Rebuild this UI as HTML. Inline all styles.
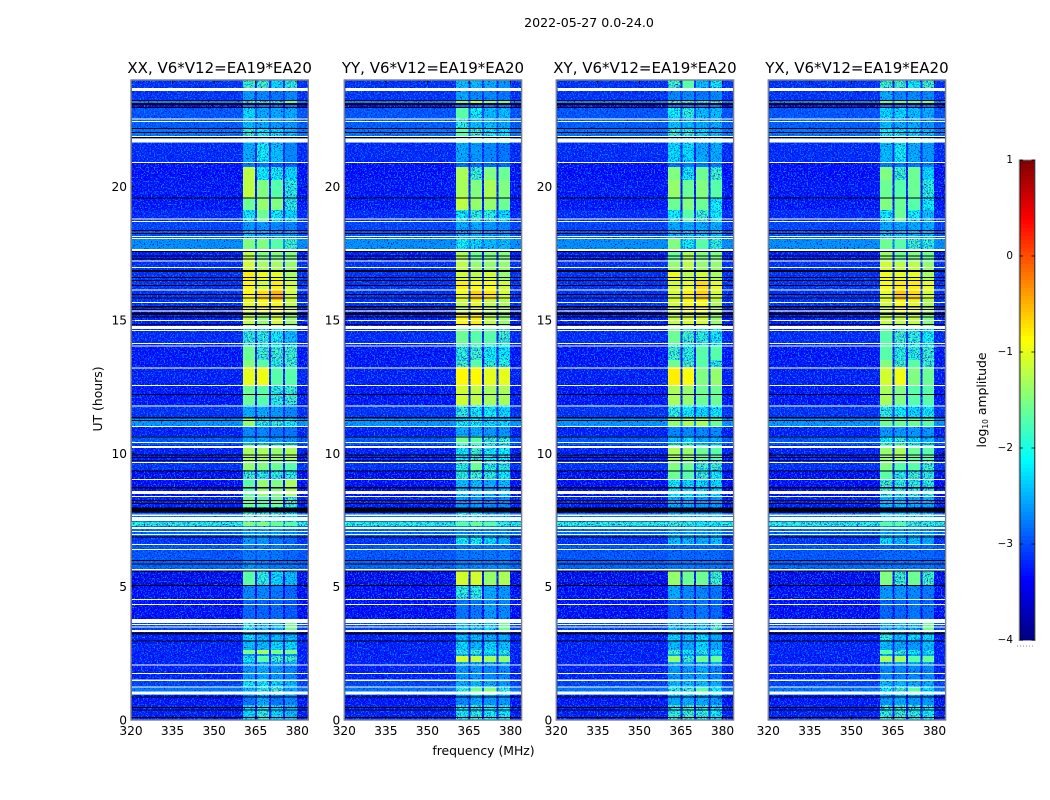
<!DOCTYPE html>
<html>
<head>
<meta charset="utf-8">
<title>2022-05-27 waterfall</title>
<style>
html,body{margin:0;padding:0;background:#fff;}
svg{display:block;}
text{font-family:"DejaVu Sans","Liberation Sans",sans-serif;fill:#000;}
</style>
</head>
<body>
<svg id="chart" xmlns="http://www.w3.org/2000/svg" width="1050" height="800" viewBox="0 0 1050 800">
  <defs>
    <filter id="speckle" x="0" y="0" width="100%" height="100%" color-interpolation-filters="sRGB">
      <feTurbulence type="fractalNoise" baseFrequency="0.7" numOctaves="2" seed="4" result="n"/>
      <feColorMatrix in="n" type="matrix" values="0 0 0 0 0  0 0 0 0 0.55  0 0 0 0 1  7 0 0 0 -3.75" result="light"/>
      <feColorMatrix in="n" type="matrix" values="0 0 0 0 0  0 0 0 0 0.02  0 0 0 0 0.72  0 -7 0 0 2.95" result="dark"/>
      <feMerge result="m"><feMergeNode in="dark"/><feMergeNode in="light"/></feMerge>
      <feComposite in="m" in2="SourceAlpha" operator="in"/>
    </filter>
  </defs>
  <text x="589" y="27" font-size="12.6" text-anchor="middle">2022-05-27 0.0-24.0</text>
  <text x="102" y="399" font-size="12.4" text-anchor="middle" transform="rotate(-90 102 399)">UT (hours)</text>
  <text x="483.5" y="755" font-size="12.4" text-anchor="middle">frequency (MHz)</text>
  <text x="986" y="400" font-size="12.4" text-anchor="middle" transform="rotate(-90 986 400)">log<tspan font-size="7.5" dy="2">10</tspan><tspan dy="-2"> amplitude</tspan></text>
  <g id="panels"></g>
  <g id="colorbar"></g>
</svg>
<script>
var panelTitles = ["XX, V6*V12=EA19*EA20","YY, V6*V12=EA19*EA20","XY, V6*V12=EA19*EA20","YX, V6*V12=EA19*EA20"];
var freqTicks = [320,335,350,365,380];
var hourTicks = [0,5,10,15,20];
var colorbarTicks = [1,0,-1,-2,-3,-4];
var bandEdgesMHz = [[360.4,364.8],[365.5,369.8],[370.5,374.9],[375.6,379.9]];
var segmentEdgesHours = [24.00,23.70,23.25,23.10,22.99,22.58,22.20,21.86,21.64,20.89,
20.74,20.25,19.58,19.13,18.68,18.34,18.04,17.66,17.18,16.88,
16.50,16.13,15.75,15.30,14.78,14.06,13.50,13.24,12.56,11.81,
11.36,10.99,10.65,10.31,9.75,9.38,9.00,8.40,7.99,7.76,
7.43,7.28,6.90,6.60,6.00,5.63,5.06,4.50,3.79,3.38,
3.00,2.63,2.48,2.40,2.18,2.06,1.50,1.24,0.94,0.56,0];
var backgroundLevels = [-3.0,-3.0,-2.5,-3.3,-2.8,-2.75,-2.6,-2.9,-3.05,-3.2,
-3.2,-3.15,-3.15,-3.05,-2.9,-2.8,-2.45,-3.1,-3.0,-3.0,
-3.0,-3.0,-3.0,-3.1,-3.05,-3.15,-3.15,-3.1,-3.15,-3.0,
-2.4,-3.1,-2.8,-3.1,-3.0,-3.25,-3.2,-3.1,-3.2,-2.6,
-1.9,-2.7,-3.0,-2.8,-2.7,-3.3,-3.2,-3.2,-2.9,-3.1,
-3.1,-3.1,-3.1,-3.1,-3.1,-3.1,-2.9,-2.6,-3.15,-3.1];
var bandLevelsXX = [[-1.8,-1.8,-2.1,-1.9],[-2.4,-2.5,-2.6,-2.5],[-1.8,-1.9,-2.0,-1.7],[-2.6,-2.6,-2.6,-2.6],[-2.1,-2.3,-2.3,-2.3],[-2.2,-2.3,-2.4,-2.4],[-1.9,-2.0,-2.1,-2.2],[-2.2,-2.2,-2.3,-2.4],[-2.3,-2.0,-2.2,-2.5],[-2.6,-2.6,-2.8,-2.8],
[-1.2,-2.0,-2.0,-2.1],[-1.2,-1.5,-1.7,-1.9],[-1.6,-1.4,-1.5,-1.9],[-2.0,-1.6,-2.0,-2.1],[-2.4,-2.4,-2.5,-2.5],[-2.2,-2.3,-2.4,-2.4],[-1.5,-1.5,-1.7,-1.8],[-1.2,-1.5,-1.5,-1.5],[-1.1,-1.3,-1.3,-1.4],[-0.8,-0.95,-1.0,-1.3],
[-0.85,-1.1,-0.8,-1.1],[-0.85,-0.7,-0.5,-1.1],[-1.0,-0.9,-0.85,-1.2],[-1.2,-1.4,-1.1,-1.4],[-1.9,-1.9,-2.0,-2.2],[-1.6,-1.8,-1.8,-1.8],[-1.5,-1.7,-1.9,-1.8],[-1.0,-0.95,-1.7,-1.7],[-1.6,-1.7,-1.9,-1.8],[-2.3,-2.3,-2.4,-2.5],
[-1.4,-1.9,-1.9,-2.0],[-2.5,-2.5,-2.6,-2.6],[-2.3,-2.3,-2.4,-2.4],[-1.3,-1.3,-1.4,-1.3],[-1.4,-1.5,-1.6,-1.7],[-1.8,-1.9,-1.9,-1.9],[-1.7,-1.4,-1.5,-1.3],[-1.6,-1.7,-1.6,-1.8],[-1.8,-1.8,-1.9,-1.9],[-1.8,-1.8,-1.9,-2.0],
[-1.5,-1.5,-1.6,-1.7],[-2.4,-2.4,-2.4,-2.5],[-2.4,-2.4,-2.6,-2.7],[-2.6,-2.6,-2.6,-2.7],[-2.4,-2.5,-2.6,-2.6],[-1.7,-1.9,-2.1,-2.2],[-2.5,-2.5,-2.6,-2.7],[-2.7,-2.7,-2.7,-2.8],[-2.0,-2.2,-2.2,-1.6],[-2.1,-2.2,-2.2,-2.2],
[-2.2,-2.2,-2.1,-2.1],[-1.5,-1.3,-1.5,-1.5],[-2.4,-2.4,-2.4,-2.4],[-2.0,-1.7,-1.8,-1.8],[-2.3,-2.3,-2.3,-2.3],[-2.4,-2.3,-2.4,-2.5],[-2.0,-2.0,-2.1,-2.2],[-2.2,-1.9,-1.8,-2.3],[-2.6,-2.3,-2.6,-2.5],[-2.1,-1.9,-2.1,-2.2]];
var bandLevelsYY = [[-2.2,-2.2,-2.3,-2.4],[-2.3,-2.5,-2.5,-2.6],[-1.6,-1.3,-1.6,-1.6],[-2.6,-2.6,-2.6,-2.6],[-1.7,-2.0,-2.2,-2.2],[-1.9,-2.2,-2.2,-2.3],[-1.7,-1.8,-2.0,-2.1],[-1.6,-1.6,-1.6,-1.7],[-2.3,-2.4,-2.5,-2.6],[-2.7,-2.7,-2.7,-2.7],
[-1.3,-1.8,-1.5,-1.6],[-1.3,-1.5,-1.3,-1.5],[-1.2,-1.4,-1.4,-1.6],[-2.0,-1.9,-1.9,-2.1],[-2.3,-2.3,-2.4,-2.5],[-2.3,-2.3,-2.4,-2.4],[-2.0,-2.1,-2.2,-2.2],[-1.3,-1.6,-1.5,-1.5],[-1.2,-1.4,-1.4,-1.4],[-1.1,-1.2,-1.1,-1.4],
[-0.8,-0.9,-0.9,-1.1],[-0.95,-0.65,-0.75,-1.1],[-1.2,-1.0,-1.2,-1.3],[-0.85,-0.8,-1.2,-1.4],[-1.6,-1.7,-1.7,-1.8],[-1.9,-1.8,-2.0,-2.0],[-1.8,-1.7,-1.9,-1.9],[-0.85,-0.85,-1.0,-1.0],[-1.1,-1.2,-1.3,-1.3],[-1.9,-2.0,-2.0,-2.1],
[-2.0,-2.0,-2.1,-2.1],[-2.3,-2.3,-2.4,-2.4],[-1.6,-1.7,-1.8,-1.8],[-2.0,-1.8,-2.0,-2.0],[-1.9,-1.6,-1.9,-1.9],[-1.9,-1.8,-1.9,-2.0],[-2.2,-2.2,-2.3,-2.2],[-2.4,-2.4,-2.5,-2.5],[-2.4,-2.4,-2.4,-2.4],[-2.0,-2.0,-2.2,-2.2],
[-1.7,-1.6,-1.7,-1.9],[-2.5,-2.5,-2.5,-2.5],[-2.0,-2.0,-2.1,-2.2],[-2.6,-2.6,-2.6,-2.6],[-2.5,-2.5,-2.5,-2.5],[-1.1,-1.1,-1.4,-1.3],[-1.9,-1.9,-2.3,-2.4],[-2.6,-2.6,-2.4,-2.5],[-2.2,-2.2,-2.1,-1.6],[-2.2,-2.2,-2.3,-2.3],
[-2.1,-2.2,-2.1,-2.2],[-1.9,-1.8,-2.0,-1.9],[-2.3,-2.3,-2.3,-2.3],[-1.1,-1.2,-1.3,-1.4],[-2.3,-2.3,-2.3,-2.3],[-2.4,-2.4,-2.5,-2.5],[-2.3,-2.2,-2.3,-2.4],[-1.9,-1.6,-1.5,-1.9],[-2.5,-2.3,-2.4,-2.4],[-2.0,-1.9,-2.0,-2.0]];
var bandLevelsXY = [[-1.8,-1.7,-2.2,-2.0],[-2.5,-2.5,-2.6,-2.5],[-1.8,-1.8,-1.9,-1.8],[-2.6,-2.6,-2.6,-2.6],[-2.0,-1.9,-2.2,-2.2],[-2.2,-2.2,-2.3,-2.3],[-1.9,-1.9,-2.1,-2.2],[-1.8,-1.8,-1.8,-2.0],[-2.1,-2.1,-2.3,-2.3],[-2.6,-2.6,-2.6,-2.6],
[-1.5,-2.0,-1.6,-1.8],[-1.4,-1.6,-1.5,-1.7],[-1.6,-1.5,-1.6,-2.0],[-2.0,-1.7,-1.8,-2.0],[-2.3,-2.3,-2.3,-2.3],[-2.2,-2.2,-2.2,-2.2],[-1.5,-2.0,-1.7,-1.9],[-1.6,-1.3,-1.5,-1.5],[-1.4,-1.2,-1.4,-1.4],[-0.95,-1.2,-1.1,-1.3],
[-1.1,-1.0,-0.7,-1.0],[-1.1,-0.8,-0.65,-1.1],[-1.1,-0.9,-0.9,-1.3],[-1.2,-1.1,-1.1,-1.4],[-1.6,-1.8,-1.9,-2.0],[-1.8,-1.9,-1.7,-1.7],[-1.6,-1.8,-1.7,-1.9],[-0.8,-0.9,-1.5,-1.4],[-1.3,-1.4,-1.6,-1.6],[-1.9,-2.0,-2.1,-2.0],
[-1.4,-1.3,-1.3,-1.6],[-2.5,-2.5,-2.5,-2.5],[-2.2,-2.1,-2.3,-2.3],[-1.3,-1.4,-1.6,-1.7],[-1.5,-1.6,-1.8,-1.8],[-1.6,-1.7,-1.8,-2.0],[-2.0,-2.1,-2.1,-2.1],[-2.3,-2.3,-2.4,-2.4],[-2.4,-2.4,-2.4,-2.4],[-2.2,-2.2,-2.2,-2.2],
[-1.8,-1.9,-2.0,-2.0],[-2.4,-2.4,-2.4,-2.4],[-2.2,-2.2,-2.3,-2.2],[-2.7,-2.7,-2.7,-2.7],[-2.6,-2.6,-2.6,-2.6],[-1.4,-1.6,-1.6,-1.8],[-2.3,-2.5,-2.5,-2.6],[-2.8,-2.7,-2.6,-2.7],[-2.2,-2.2,-2.2,-1.8],[-2.1,-2.2,-2.1,-2.3],
[-2.2,-2.3,-2.1,-2.3],[-1.8,-2.0,-1.9,-2.1],[-2.3,-2.3,-2.3,-2.3],[-1.4,-1.8,-1.6,-1.6],[-2.3,-2.3,-2.3,-2.3],[-2.4,-2.4,-2.3,-2.5],[-2.2,-2.2,-2.2,-2.3],[-1.9,-1.8,-1.7,-2.0],[-2.3,-2.3,-2.3,-2.4],[-1.9,-1.8,-1.9,-2.0]];
var bandLevelsYX = [[-1.8,-1.8,-2.0,-1.8],[-2.3,-2.5,-2.5,-2.5],[-1.7,-1.7,-1.7,-1.6],[-2.6,-2.6,-2.6,-2.6],[-2.1,-2.1,-2.2,-2.3],[-2.2,-2.3,-2.3,-2.4],[-2.0,-2.0,-2.1,-2.2],[-1.7,-1.6,-1.6,-1.8],[-2.2,-2.0,-2.3,-2.4],[-2.6,-2.6,-2.6,-2.6],
[-1.5,-1.8,-1.6,-2.1],[-1.6,-1.7,-1.6,-1.9],[-1.5,-1.6,-1.7,-2.0],[-2.0,-1.6,-2.0,-2.2],[-2.3,-2.3,-2.3,-2.3],[-2.2,-2.2,-2.2,-2.2],[-1.6,-1.7,-1.8,-1.9],[-1.4,-1.6,-1.5,-1.6],[-1.1,-1.2,-1.2,-1.4],[-0.95,-1.0,-1.0,-1.3],
[-0.9,-0.8,-0.8,-1.0],[-1.0,-0.6,-0.7,-1.1],[-1.1,-0.9,-1.0,-1.3],[-1.2,-1.2,-1.2,-1.5],[-1.7,-1.8,-1.9,-2.0],[-1.7,-1.9,-1.9,-1.8],[-1.5,-1.8,-1.7,-1.8],[-1.1,-0.95,-1.5,-1.6],[-1.3,-1.5,-1.7,-1.7],[-1.9,-2.0,-2.1,-2.0],
[-1.6,-1.6,-1.6,-1.7],[-2.4,-2.4,-2.4,-2.4],[-2.0,-1.9,-2.1,-2.2],[-1.4,-1.3,-1.6,-1.7],[-1.5,-1.7,-1.7,-1.8],[-1.7,-1.9,-1.8,-1.9],[-1.8,-1.9,-1.9,-1.9],[-2.2,-2.2,-2.3,-2.3],[-2.5,-2.5,-2.5,-2.5],[-2.1,-2.1,-2.1,-2.1],
[-1.7,-1.7,-1.8,-1.9],[-2.4,-2.4,-2.4,-2.4],[-2.1,-2.2,-2.2,-2.3],[-2.7,-2.7,-2.7,-2.7],[-2.6,-2.6,-2.6,-2.6],[-1.5,-1.8,-1.6,-1.8],[-2.4,-2.4,-2.5,-2.6],[-2.7,-2.7,-2.6,-2.7],[-2.3,-2.2,-2.2,-1.6],[-1.9,-2.2,-2.1,-2.1],
[-2.2,-2.3,-2.4,-2.2],[-1.7,-1.8,-2.0,-2.0],[-2.3,-2.3,-2.3,-2.3],[-1.3,-1.3,-1.7,-1.6],[-2.3,-2.3,-2.3,-2.3],[-2.5,-2.5,-2.5,-2.5],[-2.2,-2.2,-2.3,-2.3],[-2.0,-1.8,-1.7,-2.1],[-2.4,-2.3,-2.4,-2.4],[-1.9,-1.8,-1.9,-2.0]];
var whiteGapHours = [[23.70,23.59],[22.56,22.51],[22.46,22.44],[21.90,21.87],[21.80,21.65],[20.93,20.89],[18.81,18.76],[18.71,18.68],[18.15,18.11],[18.08,18.04],
[17.66,17.59],[17.23,17.19],[16.99,16.95],[16.14,16.11],[15.68,15.64],[15.36,15.32],[15.00,14.96],[14.78,14.66],[14.63,14.59],[14.14,14.10],
[14.04,14.01],[13.22,13.18],[12.56,12.53],[11.79,11.76],[11.03,10.99],[10.43,10.39],[10.28,10.20],[9.68,9.64],[9.04,9.00],[8.59,8.48],
[8.40,8.36],[7.71,7.65],[7.61,7.47],[7.24,7.16],[7.09,7.05],[6.98,6.94],[6.60,6.56],[6.41,6.38],[5.66,5.61],[4.54,4.50],
[4.35,4.31],[3.79,3.64],[3.60,3.56],[3.51,3.47],[3.38,3.30],[2.08,2.04],[1.76,1.73],[1.52,1.46],[1.26,1.23],[1.06,0.95]];
var blackGapHours = [[23.25,23.21],[23.13,23.07],[22.99,22.97],[22.20,22.16],[22.05,22.01],[21.86,21.83],[19.59,19.56],[18.38,18.33],[18.26,18.23],[17.59,17.55],
[17.42,17.39],[17.30,17.27],[16.88,16.80],[16.61,16.58],[16.50,16.46],[16.31,16.28],[15.98,15.93],[15.84,15.81],[15.53,15.46],[15.41,15.38],
[15.29,15.19],[15.13,15.10],[14.85,14.81],[12.23,12.18],[11.36,11.31],[11.25,11.21],[10.63,10.59],[9.96,9.92],[9.86,9.83],[9.75,9.71],
[9.36,9.32],[8.74,8.69],[8.25,8.22],[8.14,8.10],[7.97,7.78],[6.88,6.86],[6.00,5.97],[5.87,5.84],[5.61,5.58],[5.06,5.03],
[3.28,3.20],[2.98,2.95],[0.88,0.84],[0.49,0.46],[0.39,0.35],[0.11,0.08]];
var panelBandLevels = [bandLevelsXX,bandLevelsYY,bandLevelsXY,bandLevelsYX];
var panelNames = ["xx","yy","xy","yx"];

var SVGNS = "http://www.w3.org/2000/svg";
var panelLefts = [131,344.3,556.3,768.3];
var panelWidth = 177.3;
var plotTop = 80, plotBottom = 720;
var panelsRoot = document.getElementById("panels");
var cbRoot = document.getElementById("colorbar");

function make(tag, parent, attrs){
  var el = document.createElementNS(SVGNS, tag);
  for (var k in attrs) el.setAttribute(k, attrs[k]);
  parent.appendChild(el);
  return el;
}
function xScale(left, mhz){ return left + (mhz - 320) * 2.77; }
function yScale(hour){ return plotBottom - (hour / 24) * (plotBottom - plotTop); }
function clamp(v){ return Math.max(0, Math.min(1, v)); }
function jet(level){
  var t = clamp((level + 4) / 5);
  var r = clamp(Math.min(4 * t - 1.5, -4 * t + 4.5));
  var g = clamp(Math.min(4 * t - 0.5, -4 * t + 3.5));
  var b = clamp(Math.min(4 * t + 0.5, -4 * t + 2.5));
  return "rgb(" + Math.round(r * 255) + "," + Math.round(g * 255) + "," + Math.round(b * 255) + ")";
}
function cellColor(level){
  var drop = Math.min(0.18, Math.max(0, (-1.9 - level) * 0.6));
  return jet(level - drop);
}
function fmt(v){ return v < 0 ? "\u2212" + Math.abs(v) : String(v); }

panelTitles.forEach(function(title, p){
  var left = panelLefts[p];
  var right = left + panelWidth;
  var g = make("g", panelsRoot, {});
  
  

  var bgLayer = make("g", g, {"shape-rendering":"crispEdges"});
  
  
  var bgNoise = make("g", g, {"shape-rendering":"crispEdges", filter:"url(#speckle)"});
  
  
  var bandLayer = make("g", g, {"shape-rendering":"crispEdges"});
  
  
  var bandNoise = make("g", g, {"shape-rendering":"crispEdges", filter:"url(#speckle)"});
  
  

  backgroundLevels.forEach(function(level, s){
    var y0 = yScale(segmentEdgesHours[s]);
    var y1 = yScale(segmentEdgesHours[s + 1]);
    var cell = make("rect", bgLayer, {x:left, y:y0, width:panelWidth, height:y1 - y0, fill:cellColor(level)});
    
    
    var nb = make("rect", bgNoise, {x:left, y:y0, width:panelWidth, height:y1 - y0, fill:"#000"});
    
    
    bandEdgesMHz.forEach(function(edge, b){
      var bandLevel = panelBandLevels[p][s][b];
      var x0 = xScale(left, edge[0]);
      var x1 = xScale(left, edge[1]);
      var bc = make("rect", bandLayer, {x:x0, y:y0, width:x1 - x0, height:y1 - y0, fill:cellColor(bandLevel)});
      
      
      if (bandLevel < -1.75){
        var nc = make("rect", bandNoise, {x:x0, y:y0, width:x1 - x0, height:y1 - y0, fill:"#000"});
        
        
      }
    });
  });

  blackGapHours.forEach(function(gap){
    var y0 = yScale(gap[0]);
    var fl = make("rect", g, {x:left, y:y0, width:panelWidth, height:Math.max(1, yScale(gap[1]) - y0), fill:"#000010", "shape-rendering":"crispEdges"});
    
    
  });
  whiteGapHours.forEach(function(gap){
    var y0 = yScale(gap[0]);
    var fl = make("rect", g, {x:left + 1, y:y0, width:panelWidth - 1, height:Math.max(1, yScale(gap[1]) - y0), fill:"#fff", "shape-rendering":"crispEdges"});
    
    
  });

  freqTicks.forEach(function(f){
    var x = xScale(left, f);
    var t1 = make("line", g, {x1:x, x2:x, y1:plotBottom, y2:plotBottom - 4, stroke:"#000", "stroke-width":0.8});
    
    
    var t2 = make("line", g, {x1:x, x2:x, y1:plotTop, y2:plotTop + 4, stroke:"#000", "stroke-width":0.8});
    
    
    var lab = make("text", g, {x:x, y:735, "font-size":12.2, "text-anchor":"middle"});
    
    
    lab.textContent = f;
  });
  hourTicks.forEach(function(h){
    var y = yScale(h);
    var t1 = make("line", g, {x1:left, x2:left + 4, y1:y, y2:y, stroke:"#000", "stroke-width":0.8});
    
    
    var t2 = make("line", g, {x1:right, x2:right - 4, y1:y, y2:y, stroke:"#000", "stroke-width":0.8});
    
    
    if (p < 3){
      var lab = make("text", g, {x:left - 4, y:y + 4.5, "font-size":12.2, "text-anchor":"end"});
      
      
      lab.textContent = h;
    }
  });

  var frame = make("rect", g, {x:left, y:plotTop, width:panelWidth, height:plotBottom - plotTop, fill:"none", stroke:"#7f7f7f", "stroke-width":1.4});
  
  
  var ttl = make("text", g, {x:left + panelWidth / 2, y:73, "font-size":15, "text-anchor":"middle"});
  
  
  ttl.textContent = title;
});

function cbY(v){ return 160 + (1 - v) * 96; }
for (var cbI = 0; cbI < 120; cbI++){
  var cbV = 1 - (cbI + 0.5) * (5 / 120);
  var seg = make("rect", cbRoot, {x:1019.5, y:cbY(1 - cbI * 5 / 120), width:15.5, height:4.1, fill:jet(cbV), "shape-rendering":"crispEdges"});
  
  
}
var cbInner = make("rect", cbRoot, {x:1020, y:160.5, width:14.5, height:480, fill:"none", stroke:"#000", "stroke-width":0.8});


var cbOuter = make("rect", cbRoot, {x:1019.2, y:160, width:16, height:480.5, fill:"none", stroke:"#9a9a9a", "stroke-width":1});


colorbarTicks.forEach(function(v){
  var y = cbY(v);
  var a = make("line", cbRoot, {x1:1019.5, x2:1023, y1:y, y2:y, stroke:"#000", "stroke-width":0.8});
  
  
  var b = make("line", cbRoot, {x1:1031.5, x2:1035, y1:y, y2:y, stroke:"#000", "stroke-width":0.8});
  
  
  var lab = make("text", cbRoot, {x:1013, y:y + 3, "font-size":10.4, "text-anchor":"end"});
  
  
  lab.textContent = fmt(v);
});
var dots = make("line", cbRoot, {x1:1017, x2:1035, y1:646, y2:646, stroke:"#888", "stroke-width":1, "stroke-dasharray":"1 2"});


</script>
</body>
</html>
